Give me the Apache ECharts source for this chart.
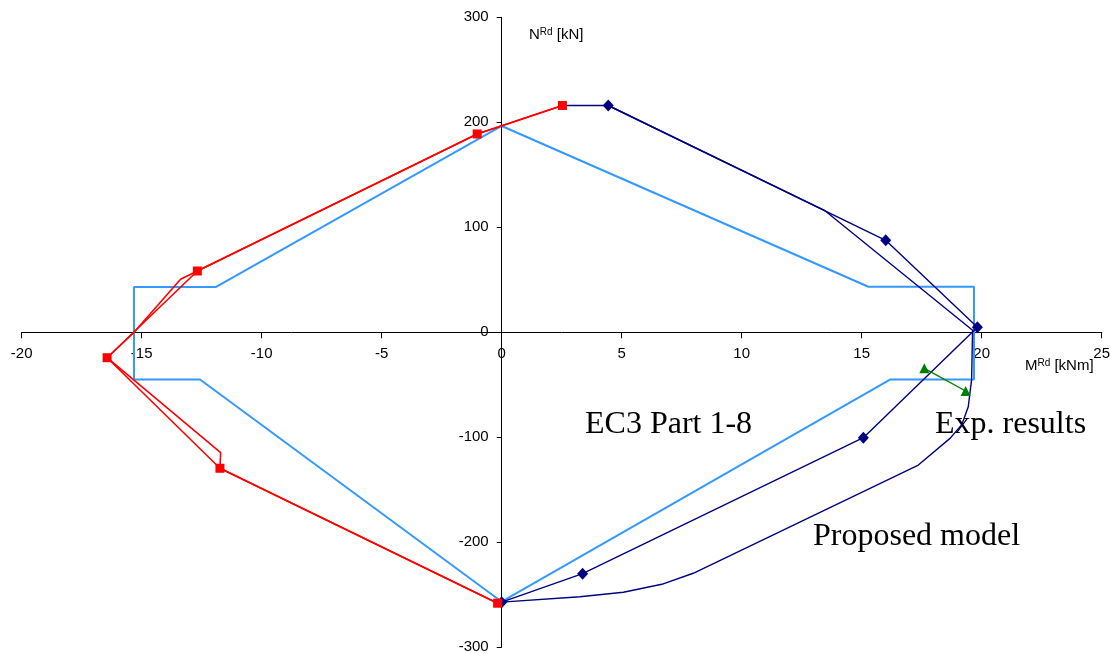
<!DOCTYPE html>
<html>
<head>
<meta charset="utf-8">
<script src="https://cdn.jsdelivr.net/npm/echarts@6/dist/echarts.min.js"></script>
<style>
html,body{margin:0;padding:0;background:#fff;}
#chart{width:1110px;height:654px;}
</style>
</head>
<body>
<div id="chart"></div>
<script>
// M [kNm], N [kN] pairs
const ec3Points = [[0,196.5],[15.28,43.4],[19.68,43.4],[19.68,-45],[16.18,-45],[0,-256.6],[-12.57,-45],[-15.32,-45],[-15.32,43.2],[-11.9,43.2],[0,196.5]];
const negModelLine = [[-0.17,-258],[-11.74,-129.5],[-11.71,-114.7],[-16.44,-24.2],[-15.32,0],[-13.38,50.5],[-12.68,58.4],[-1.02,188.9],[2.53,216]];
const negModelPoints = [[2.53,216],[-1.02,188.9],[-12.68,58.4],[-16.44,-24.2],[-11.74,-129.5],[-0.17,-258]];
const posModelLine = [[2.53,216],[4.44,216],[13.47,115.8],[19.62,2],[19.58,-45],[19.51,-58],[19.44,-71],[19.17,-88],[18.68,-101],[17.36,-126.4],[7.98,-229.5],[6.67,-240],[5.07,-247.6],[3.26,-251.8],[0,-257]];
const posModelPoints = [[4.44,216],[16.0,87.6],[19.82,4.8],[15.07,-100.4],[3.37,-229.9],[0,-257]];
const expPoints = [[17.61,-34.3],[19.33,-55.9]];
const annotations = ['EC3 Part 1-8','Exp. results','Proposed model'];
const xRange = {min:-20,max:25,step:5};
const yRange = {min:-300,max:300,step:100};

const gridBox = {left:21.7,right:8.3,top:17.3,bottom:6.7};
const W = 1110, H = 654;
const gw = W - gridBox.left - gridBox.right, gh = H - gridBox.top - gridBox.bottom;
// offsets that place each axis at the other's zero
const xAxisOffset = -(gh * (0 - yRange.min) / (yRange.max - yRange.min));
const yAxisOffset = -(gw * (0 - xRange.min) / (xRange.max - xRange.min));

const chart = echarts.init(document.getElementById('chart'), null, {renderer:'canvas'});
const tickFont = {fontFamily:'Liberation Sans, Arial, sans-serif', fontSize:15, color:'#000'};
const serif = '32px "Liberation Serif", "Times New Roman", serif';
chart.setOption({
  animation:false,
  backgroundColor:'#fff',
  grid:Object.assign({containLabel:false,outerBoundsMode:'none'},gridBox),
  xAxis:{type:'value',min:xRange.min,max:xRange.max,interval:xRange.step,position:'bottom',offset:xAxisOffset,
    axisLine:{onZero:false,lineStyle:{color:'#000',width:1}},
    axisTick:{show:true,length:6,lineStyle:{color:'#000'}},
    axisLabel:Object.assign({margin:14,showMinLabel:true,showMaxLabel:true},tickFont),
    splitLine:{show:false}},
  yAxis:{type:'value',min:yRange.min,max:yRange.max,interval:yRange.step,position:'left',offset:yAxisOffset,
    axisLine:{onZero:false,lineStyle:{color:'#000',width:1}},
    axisTick:{show:true,length:5,lineStyle:{color:'#000'}},
    axisLabel:Object.assign({margin:13,showMinLabel:true,showMaxLabel:true},tickFont),
    splitLine:{show:false}},
  series:[
    {type:'line',data:ec3Points,symbol:'none',lineStyle:{color:'#3399FF',width:2},z:2},
    {type:'line',data:posModelLine,symbol:'none',lineStyle:{color:'#000080',width:1.4},z:3},
    {type:'line',data:posModelPoints,symbol:'diamond',symbolSize:[11,12],itemStyle:{color:'#000080'},lineStyle:{color:'#000080',width:1.4},z:4},
    {type:'line',data:negModelLine,symbol:'none',lineStyle:{color:'#FF0000',width:1.6},z:5},
    {type:'line',data:negModelPoints,symbol:'rect',symbolSize:9,itemStyle:{color:'#FF0000'},lineStyle:{color:'#FF0000',width:1.6},z:6},
    {type:'line',data:expPoints,symbol:'triangle',symbolSize:10,itemStyle:{color:'#008000'},lineStyle:{color:'#008000',width:1.4},z:7}
  ],
  graphic:[
    {type:'text',x:529,y:35,style:{text:'{a|N}{b|Rd}{a| [kN]}',verticalAlign:'middle',textVerticalAlign:'middle',
      rich:{a:{fontSize:15,fontFamily:'Liberation Sans',fill:'#000',color:'#000'},b:{fontSize:10,fontFamily:'Liberation Sans',verticalAlign:'top',fill:'#000',color:'#000'}}}},
    {type:'text',x:1025,y:366,style:{text:'{a|M}{b|Rd}{a| [kNm]}',verticalAlign:'middle',textVerticalAlign:'middle',
      rich:{a:{fontSize:15,fontFamily:'Liberation Sans',fill:'#000',color:'#000'},b:{fontSize:10,fontFamily:'Liberation Sans',verticalAlign:'top',fill:'#000',color:'#000'}}}},
    {type:'text',x:585,y:425,style:{text:annotations[0],font:serif,fill:'#000',verticalAlign:'middle',textVerticalAlign:'middle'}},
    {type:'text',x:935,y:425,style:{text:annotations[1],font:serif,fill:'#000',verticalAlign:'middle',textVerticalAlign:'middle'}},
    {type:'text',x:813,y:537,style:{text:annotations[2],font:serif,fill:'#000',verticalAlign:'middle',textVerticalAlign:'middle'}}
  ]
});
</script>
</body>
</html>
